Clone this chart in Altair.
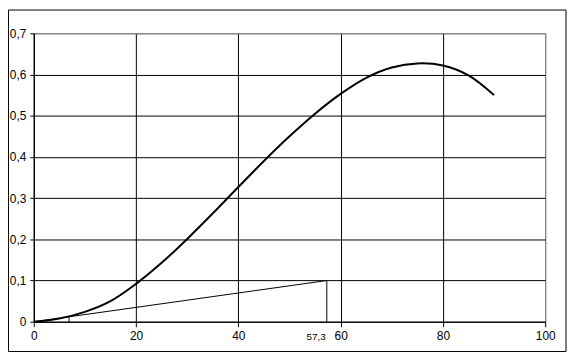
import altair as alt
import pandas as pd

# Curve values
curve_x = [0, 5, 10, 15, 20, 25, 30, 35, 40, 45, 50, 55, 60, 65, 70, 75, 80, 85, 90]
curve_y = [0, 0.008, 0.024, 0.05, 0.092, 0.143, 0.201, 0.263, 0.327, 0.39, 0.45, 0.505,
           0.553, 0.592, 0.617, 0.627, 0.622, 0.598, 0.55]

# Straight (tangent) line and its drop line
tan_x = [0, 57.3]
tan_y = [0, 0.1]
drop_x = [57.3]
drop_y = [0.1]
touch_x = [6.9]
touch_y = [0.012]
label_text = ["57,3"]

x_ticks = [0, 20, 40, 60, 80, 100]
y_ticks = [0, 0.1, 0.2, 0.3, 0.4, 0.5, 0.6, 0.7]

FONT = "Liberation Sans"

curve_df = pd.DataFrame({"x": curve_x, "y": curve_y})
tan_df = pd.DataFrame({"x": tan_x, "y": tan_y})
drop_df = pd.DataFrame({"x": drop_x, "y": drop_y, "y0": [0]})
touch_df = pd.DataFrame({"x": touch_x, "y": touch_y, "y0": [0]})
label_df = pd.DataFrame({"x": drop_x, "t": label_text, "y": [0]})

xs = alt.Scale(domain=[0, 100], nice=False, zero=False)
ys = alt.Scale(domain=[0, 0.7], nice=False, zero=False)

x_axis = alt.Axis(
    values=x_ticks, title=None, labelFlush=False, labelOverlap=False,
    tickSize=5, labelPadding=4, format="d",
    gridColor={"condition": {"test": "datum.value >= 100", "value": "#808080"}, "value": "black"},
)
y_axis = alt.Axis(
    values=y_ticks, title=None, labelOverlap=False, tickSize=4, labelPadding=4,
    labelExpr="datum.value == 0 ? '0' : replace(format(datum.value, '.1f'), '.', ',')",
    gridColor={"condition": {"test": "datum.value >= 0.7", "value": "#808080"}, "value": "black"},
)

curve = alt.Chart(curve_df).mark_line(
    color="black", strokeWidth=2, interpolate="catmull-rom"
).encode(
    x=alt.X("x:Q", scale=xs, axis=x_axis),
    y=alt.Y("y:Q", scale=ys, axis=y_axis),
)

tangent = alt.Chart(tan_df).mark_line(color="black", strokeWidth=1).encode(
    x=alt.X("x:Q", scale=xs), y=alt.Y("y:Q", scale=ys)
)

drop = alt.Chart(drop_df).mark_rule(color="black", strokeWidth=1).encode(
    x=alt.X("x:Q", scale=xs), y=alt.Y("y:Q", scale=ys), y2="y0:Q"
)

touch = alt.Chart(touch_df).mark_rule(color="black", strokeWidth=1).encode(
    x=alt.X("x:Q", scale=xs), y=alt.Y("y:Q", scale=ys), y2="y0:Q"
)

label = alt.Chart(label_df).mark_text(
    font=FONT, fontSize=10, color="black", align="right", baseline="alphabetic", dx=-1, dy=18
).encode(
    x=alt.X("x:Q", scale=xs), y=alt.Y("y:Q", scale=ys), text="t:N"
)

border = alt.Chart(pd.DataFrame({"a": [0]})).mark_rect(
    fill=None, stroke="black", strokeWidth=1
).encode(
    x=alt.value(-25.5), x2=alt.value(537), y=alt.value(-23.5), y2=alt.value(321)
)

chart = alt.layer(curve, tangent, drop, touch, label, border).properties(
    width=516, height=291,
    autosize=alt.AutoSizeParams(type="none"),
    padding={"left": 26, "top": 24, "right": 24, "bottom": 32},
    background="white",
).configure_view(
    stroke="#808080", strokeWidth=1
).configure_axis(
    domainColor="black", tickColor="black", labelColor="black",
    labelFont=FONT, labelFontSize=12, gridWidth=1, domainWidth=1, tickWidth=1,
    grid=True,
)

chart.save("out.html", embed_options={"renderer": "svg", "actions": False})
